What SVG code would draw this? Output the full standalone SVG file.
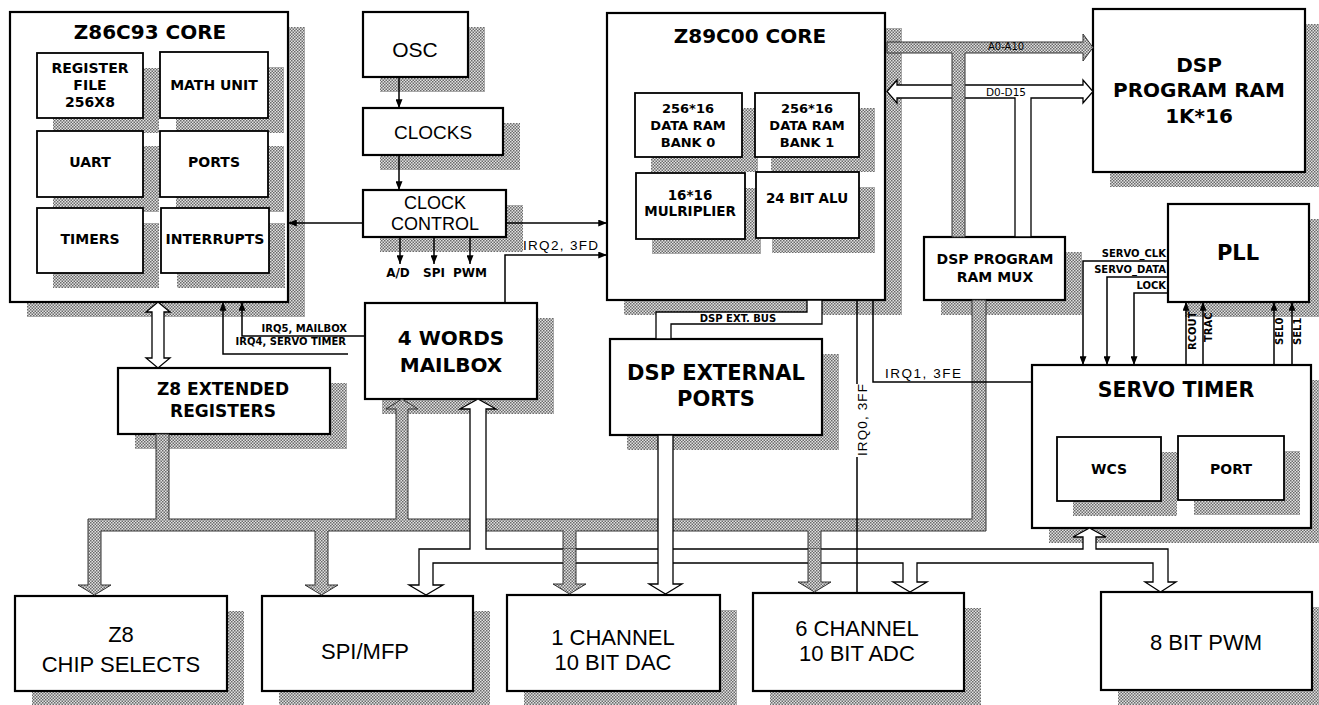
<svg xmlns="http://www.w3.org/2000/svg" width="1319" height="705" viewBox="0 0 1319 705">
<defs>
<pattern id="ht" width="3" height="3" patternUnits="userSpaceOnUse"><rect width="3" height="3" fill="#e2e2e2"/><rect width="1.5" height="1.5" fill="#6a6a6a"/><rect x="1.5" y="1.5" width="1.5" height="1.5" fill="#6a6a6a"/></pattern>
<marker id="ah" viewBox="0 0 10 8" refX="10" refY="4" markerWidth="9" markerHeight="7" markerUnits="userSpaceOnUse" orient="auto"><path d="M0,0 L10,4 L0,8 Z" fill="#000"/></marker>
</defs>
<style>
.box{fill:#fff;stroke:#000;stroke-width:2.2}
.ibox{fill:#fff;stroke:#000;stroke-width:1.8}
.sh{fill:url(#ht)}
.ln{fill:none;stroke:#000;stroke-width:1.5}
.arr{marker-end:url(#ah)}
.wbus{fill:#fff;stroke:#000;stroke-width:1.3}
.gbus{fill:url(#ht);stroke:#333;stroke-width:1}
.tb{font-family:"DejaVu Sans",sans-serif;font-weight:bold;text-anchor:middle;fill:#000}
.tr{font-family:"Liberation Sans",Arial,sans-serif;text-anchor:middle;fill:#000}
.s{font-family:"DejaVu Sans",sans-serif;font-weight:bold;font-size:10px;fill:#000}
.lab{font-family:"Liberation Sans",Arial,sans-serif;font-size:13.5px;fill:#000}
</style>
<rect width="1319" height="705" fill="#fff"/>

<g id="z86c93">
<rect class="sh" x="27" y="27" width="278" height="290"/>
<rect class="box" x="10" y="12" width="278" height="290"/>
<text class="tb" x="150" y="39" font-size="20">Z86C93 CORE</text>
<g id="regfile"><rect class="sh" x="53" y="68" width="106" height="65"/><rect class="ibox" x="37" y="53" width="106" height="65"/>
<text class="tb" font-size="14" x="90" y="73">REGISTER</text><text class="tb" font-size="14" x="90" y="90">FILE</text><text class="tb" font-size="14" x="90" y="107">256X8</text></g>
<g id="math"><rect class="sh" x="176" y="67" width="108" height="66"/><rect class="ibox" x="160" y="52" width="108" height="66"/>
<text class="tb" font-size="14" x="214" y="90">MATH UNIT</text></g>
<g id="uart"><rect class="sh" x="53" y="146" width="106" height="66"/><rect class="ibox" x="37" y="131" width="106" height="66"/>
<text class="tb" font-size="14" x="90" y="167">UART</text></g>
<g id="ports"><rect class="sh" x="176" y="146" width="108" height="66"/><rect class="ibox" x="160" y="131" width="108" height="66"/>
<text class="tb" font-size="14" x="214" y="167">PORTS</text></g>
<g id="timers"><rect class="sh" x="53" y="223" width="106" height="65"/><rect class="ibox" x="37" y="208" width="106" height="65"/>
<text class="tb" font-size="14" x="90" y="244">TIMERS</text></g>
<g id="interrupts"><rect class="sh" x="177" y="223" width="108" height="65"/><rect class="ibox" x="161" y="208" width="108" height="65"/>
<text class="tb" font-size="14" x="215" y="244">INTERRUPTS</text></g>
</g>

<g id="osc"><rect class="sh" x="380" y="27" width="105" height="65"/><rect class="box" x="363" y="12" width="105" height="65"/>
<text class="tr" font-size="21" x="415" y="57">OSC</text></g>
<g id="clocks"><rect class="sh" x="380" y="123" width="140" height="47"/><rect class="box" x="363" y="108" width="140" height="47"/>
<text class="tr" font-size="19" x="433" y="139">CLOCKS</text></g>
<g id="clockcontrol"><rect class="sh" x="380" y="205" width="143" height="47"/><rect class="box" x="363" y="190" width="143" height="47"/>
<text class="tr" font-size="18" x="435" y="209">CLOCK</text><text class="tr" font-size="18" x="435" y="230">CONTROL</text></g>

<g id="z89c00">
<rect class="sh" x="624" y="28" width="278" height="287"/>
<rect class="box" x="607" y="13" width="278" height="287"/>
<text class="tb" x="750" y="43" font-size="20">Z89C00 CORE</text>
<g id="bank0"><rect class="sh" x="651" y="108" width="107" height="64"/><rect class="ibox" x="635" y="93" width="107" height="64"/>
<text class="tb" font-size="13" x="688" y="113">256*16</text><text class="tb" font-size="13" x="688" y="130">DATA RAM</text><text class="tb" font-size="13" x="688" y="147">BANK 0</text></g>
<g id="bank1"><rect class="sh" x="771" y="108" width="104" height="64"/><rect class="ibox" x="755" y="93" width="104" height="64"/>
<text class="tb" font-size="13" x="807" y="113">256*16</text><text class="tb" font-size="13" x="807" y="130">DATA RAM</text><text class="tb" font-size="13" x="807" y="147">BANK 1</text></g>
<g id="mult"><rect class="sh" x="652" y="188" width="109" height="66"/><rect class="ibox" x="636" y="173" width="109" height="66"/>
<text class="tb" font-size="13.5" x="690" y="200">16*16</text><text class="tb" font-size="13.5" x="690" y="216">MULRIPLIER</text></g>
<g id="alu"><rect class="sh" x="772" y="187" width="103" height="66"/><rect class="ibox" x="756" y="172" width="103" height="66"/>
<text class="tb" font-size="13.5" x="807" y="203">24 BIT ALU</text></g>
</g>

<g id="dspram"><rect class="sh" x="1110" y="24" width="212" height="163"/><rect class="box" x="1093" y="9" width="212" height="163"/>
<text class="tb" font-size="20" x="1199" y="72">DSP</text><text class="tb" font-size="20" x="1199" y="97">PROGRAM RAM</text><text class="tb" font-size="20" x="1199" y="123">1K*16</text></g>

<g id="mux"><rect class="sh" x="941" y="252" width="141" height="63"/><rect class="box" x="924" y="237" width="141" height="63"/>
<text class="tb" font-size="14" x="995" y="264">DSP PROGRAM</text><text class="tb" font-size="14" x="995" y="282">RAM MUX</text></g>

<g id="pll"><rect class="sh" x="1185" y="219" width="141" height="98"/><rect class="box" x="1168" y="204" width="141" height="98"/>
<text class="tb" font-size="21" x="1238" y="260">PLL</text></g>

<g id="servotimer"><rect class="sh" x="1049" y="380" width="279" height="163"/><rect class="box" x="1032" y="365" width="279" height="163"/>
<text class="tb" font-size="20.5" x="1176" y="397">SERVO TIMER</text>
<g id="wcs"><rect class="sh" x="1073" y="452" width="104" height="64"/><rect class="ibox" x="1057" y="437" width="104" height="64"/>
<text class="tb" font-size="14" x="1109" y="474">WCS</text></g>
<g id="port"><rect class="sh" x="1194" y="451" width="106" height="64"/><rect class="ibox" x="1178" y="436" width="106" height="64"/>
<text class="tb" font-size="14" x="1231" y="474">PORT</text></g>
</g>

<g id="dspext"><rect class="sh" x="627" y="354" width="212" height="96"/><rect class="box" x="610" y="339" width="212" height="96"/>
<text class="tb" font-size="21" x="716" y="380">DSP EXTERNAL</text><text class="tb" font-size="21" x="716" y="406">PORTS</text></g>

<g id="mailbox"><rect class="sh" x="382" y="318" width="172" height="96"/><rect class="box" x="365" y="303" width="172" height="96"/>
<text class="tb" font-size="20" x="451" y="345">4 WORDS</text><text class="tb" font-size="20" x="451" y="372">MAILBOX</text></g>

<g id="z8ext"><rect class="sh" x="135" y="383" width="212" height="66"/><rect class="box" x="118" y="368" width="212" height="66"/>
<text class="tb" font-size="17" x="223" y="395">Z8 EXTENDED</text><text class="tb" font-size="17" x="223" y="417">REGISTERS</text></g>

<g id="z8cs"><rect class="sh" x="32" y="611" width="212" height="95"/><rect class="box" x="15" y="596" width="212" height="95"/>
<text class="tr" font-size="22" x="121" y="642">Z8</text><text class="tr" font-size="22" x="121" y="672">CHIP SELECTS</text></g>
<g id="spimfp"><rect class="sh" x="279" y="611" width="211" height="95"/><rect class="box" x="262" y="596" width="211" height="95"/>
<text class="tr" font-size="22" x="365" y="659">SPI/MFP</text></g>
<g id="dac"><rect class="sh" x="524" y="610" width="213" height="96"/><rect class="box" x="507" y="595" width="213" height="96"/>
<text class="tr" font-size="22" x="613" y="645">1 CHANNEL</text><text class="tr" font-size="22" x="613" y="670">10 BIT DAC</text></g>
<g id="adc"><rect class="sh" x="770" y="608" width="211" height="98"/><rect class="box" x="753" y="593" width="211" height="98"/>
<text class="tr" font-size="22" x="857" y="636">6 CHANNEL</text><text class="tr" font-size="22" x="857" y="661">10 BIT ADC</text></g>
<g id="pwm"><rect class="sh" x="1118" y="607" width="211" height="98"/><rect class="box" x="1101" y="592" width="211" height="98"/>
<text class="tr" font-size="22" x="1206" y="650">8 BIT PWM</text></g>

<g id="connectors">
<path class="ln arr" d="M399,77 V108"/>
<path class="ln arr" d="M399,155 V190"/>
<path class="ln arr" d="M363,223 H288"/>
<path class="ln arr" d="M506,223 H607"/>
<path class="ln arr" d="M400,237 V264"/>
<path class="ln arr" d="M434,237 V264"/>
<path class="ln arr" d="M470,237 V264"/>
<text class="tb" font-size="12" x="398" y="277">A/D</text>
<text class="tb" font-size="12" x="434" y="277">SPI</text>
<text class="tb" font-size="12" x="470" y="277">PWM</text>
<path class="ln arr" d="M505,303 V255 H607"/>
<text class="lab" x="523" y="250" textLength="75">IRQ2, 3FD</text>
<path class="ln arr" d="M365,336 H242 V302"/>
<path class="ln arr" d="M348,354 H223 V302"/>
<text class="s" x="347" y="332" text-anchor="end">IRQ5, MAILBOX</text>
<text class="s" x="346" y="345" text-anchor="end">IRQ4, SERVO TIMER</text>
<path class="wbus" d="M158,302 L170,312 H164 V358 H170 L158,368 L146,358 H152 V312 H146 Z"/>
<path class="gbus" d="M88,519 H156 V434 H169 V519 H396 V409 H386 L402,399 L418,409 H408 V519 H972 V300 H986 V531 H821 V582 H831 L814.5,592 L798,582 H808 V531 H576 V584 H586 L569.5,594 L553,584 H563 V531 H328 V585 H338 L321.5,595 L305,585 H315 V531 H101 V585 H111 L94.5,595 L78,585 H88 Z"/>
<path class="wbus" d="M419,549 H470 V409 H460 L478,399 L496,409 H486 V549 H1083 V537 H1073 L1089.5,528 L1106,537 H1096 V549 H1168 V582 H1176 L1160.5,592 L1145,582 H1153 V563 H917 V582 H927 L910,592 L893,582 H903 V563 H433 V585 H443 L426,595 L409,585 H419 Z"/>
<path class="wbus" d="M658,435 H673 V584 H682 L665.5,594 L649,584 H658 Z"/>
<rect x="563" y="548.5" width="13" height="15.5" fill="url(#ht)"/>
<path d="M563,548.5 V564 M576,548.5 V564" stroke="#333" stroke-width="1"/>
<rect x="808" y="548.5" width="13" height="15.5" fill="url(#ht)"/>
<path d="M808,548.5 V564 M821,548.5 V564" stroke="#333" stroke-width="1"/>
<path class="wbus" d="M887,91.5 L897,80 V85 H1083 V80 L1093,91.5 L1083,103 V98 H1031 V237 H1015 V98 H897 V103 Z"/>
<path class="gbus" d="M887,42 H1083 V34 L1093,47.5 L1083,61 V53 H965 V237 H952 V53 H887 Z"/>
<text x="988" y="50" font-family="DejaVu Sans,sans-serif" font-size="10" fill="#000">A0-A10</text>
<text x="986" y="96" font-family="DejaVu Sans,sans-serif" font-size="10.5" fill="#000">D0-D15</text>
<path class="wbus" d="M807,300 H822 V324 H671 V339 H656 V312 H807 Z"/>
<text class="s" font-size="9" x="738" y="322" text-anchor="middle">DSP EXT. BUS</text>
<path class="ln" d="M873,300 V382 H1032"/>
<text class="lab" x="885" y="378" textLength="76">IRQ1, 3FE</text>
<path class="ln" d="M857,300 V384 M857,457 V593"/>
<text class="lab" transform="translate(867,456) rotate(-90)" textLength="72">IRQ0, 3FF</text>
<path class="ln arr" d="M1168,261 H1083 V365"/>
<path class="ln arr" d="M1168,277 H1107 V365"/>
<path class="ln arr" d="M1168,293 H1134 V365"/>
<text class="s" font-size="9.5" x="1166" y="257" text-anchor="end">SERVO_CLK</text>
<text class="s" font-size="9.5" x="1166" y="273" text-anchor="end">SERVO_DATA</text>
<text class="s" font-size="9.5" x="1166" y="289" text-anchor="end">LOCK</text>
<path class="ln arr" d="M1186,365 V302"/>
<path class="ln arr" d="M1203,365 V302"/>
<path class="ln arr" d="M1274,365 V302"/>
<path class="ln arr" d="M1292,365 V302"/>
<text class="s" font-size="9" transform="translate(1196,350) rotate(-90)">RCOUT</text>
<text class="s" font-size="9" transform="translate(1212,342) rotate(-90)">TRAC</text>
<text class="s" font-size="9" transform="translate(1283,345) rotate(-90)">SEL0</text>
<text class="s" font-size="9" transform="translate(1301,345) rotate(-90)">SEL1</text>
</g>
</svg>
